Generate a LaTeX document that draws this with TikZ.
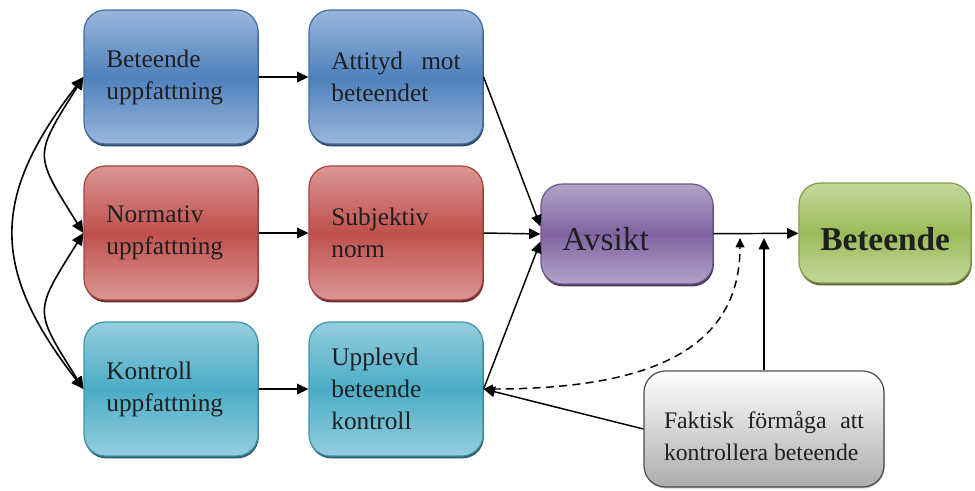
\documentclass[tikz,border=0pt]{standalone}
\usepackage{fontspec}
\setmainfont{Liberation Serif}
\usetikzlibrary{arrows.meta,shadows}

\definecolor{blueM}{HTML}{4F81BD}
\definecolor{blueL}{HTML}{9AB6DA}
\definecolor{redM}{HTML}{C0504D}
\definecolor{redL}{HTML}{DA9694}
\definecolor{cyanM}{HTML}{4BACC6}
\definecolor{cyanL}{HTML}{95CEDE}
\definecolor{purpM}{HTML}{8064A2}
\definecolor{purpL}{HTML}{B4A3C8}
\definecolor{greenM}{HTML}{9BBB59}
\definecolor{greenL}{HTML}{C4D89D}
\definecolor{txt}{HTML}{1F1F1F}

\tikzset{
  box/.style 2 args={rectangle, rounded corners=16pt, inner sep=0pt,
    draw=#1!85!black, line width=0.9pt,
    top color=#2, bottom color=#2, middle color=#1,
    drop shadow={shadow xshift=0.6pt, shadow yshift=-1.8pt,
      fill=#1!55!black, opacity=1}},
  rowbox/.style={minimum width=130.5pt, minimum height=100.5pt,
    text width=97pt, align=left, font=\fontsize{19}{24}\selectfont},
  endbox/.style={minimum width=129pt, minimum height=75pt,
    text width=97pt, align=left, font=\fontsize{25}{30}\selectfont},
  arr/.style={line width=1.1pt, -{Triangle[length=8.5pt,width=8pt]}},
}

\begin{document}
\begin{tikzpicture}[x=0.75pt,y=-0.75pt]
  \useasboundingbox (0,0) rectangle (975,490);

  \begin{scope}[every node/.style={text=txt}]
    \node[box={blueM}{blueL},rowbox]  (1) at (171,77)  {Beteende\\uppfattning};
    \node[box={blueM}{blueL},rowbox]  (2) at (396,77)  {Attityd\hfill mot\\beteendet};
    \node[box={redM}{redL},rowbox]    (3) at (171,233) {Normativ\\uppfattning};
    \node[box={redM}{redL},rowbox]    (4) at (396,233) {Subjektiv\\norm};
    \node[box={cyanM}{cyanL},rowbox]  (5) at (171,389) {Kontroll\\uppfattning};
    \node[box={cyanM}{cyanL},rowbox]  (6) at (396,389) {Upplevd\\beteende\\kontroll};
    \node[box={purpM}{purpL},endbox]  (7) at (627,234) {\rule{0pt}{25pt}Avsikt};
    \node[box={greenM}{greenL},endbox,font=\fontsize{25}{30}\selectfont\bfseries]
                                      (8) at (885,233) {\rule{0pt}{27pt}Beteende};
    \node[rectangle, rounded corners=16pt, draw=gray!60!black, line width=0.9pt,
      top color=white, bottom color=gray!65,
      drop shadow={shadow xshift=0.6pt, shadow yshift=-1.2pt, fill=gray!40, opacity=1},
      minimum width=180pt, minimum height=87pt, text width=150pt, align=justify,
      font=\fontsize{17.8}{24}\selectfont]
                                      (9) at (764,429) {\rule{0pt}{24pt}Faktisk förmåga att\linebreak kontrollera beteende};
  \end{scope}

  \coordinate (d) at (740,238);
  \coordinate (f) at (764,238);

  \begin{scope}[every path/.style={arr}]
    \draw (1) -- (2);
    \draw (3) -- (4);
    \draw (5) -- (6);
    \draw (2.east) -- (7.175);
    \draw (4.east) -- (7.west);
    \draw (6.east) -- (7.185);
    \draw (7) -- (8);
    \draw (9.north) -- (f);
    \draw (9.west) -- (6.east);
  \end{scope}

  % double arrows on the left
  \begin{scope}[line width=1.2pt, {Triangle[length=9pt,width=8.5pt]}-{Triangle[length=9pt,width=8.5pt]}]
    \draw (1.west) .. controls +(-50,80) and +(-50,-80) .. (3.west);
    \draw (3.west) .. controls +(-50,80) and +(-50,-80) .. (5.west);
    \draw (1.west) .. controls +(-93,120) and +(-93,-120) .. (5.west);
  \end{scope}

  \draw[line width=1.1pt, dash pattern=on 6pt off 4pt,
    {Triangle[length=7pt,width=6.5pt]}-{Triangle[length=7pt,width=6.5pt]}]
    (6.east) .. controls +(160,0) and +(0,115) .. (d);

\end{tikzpicture}
\end{document}
